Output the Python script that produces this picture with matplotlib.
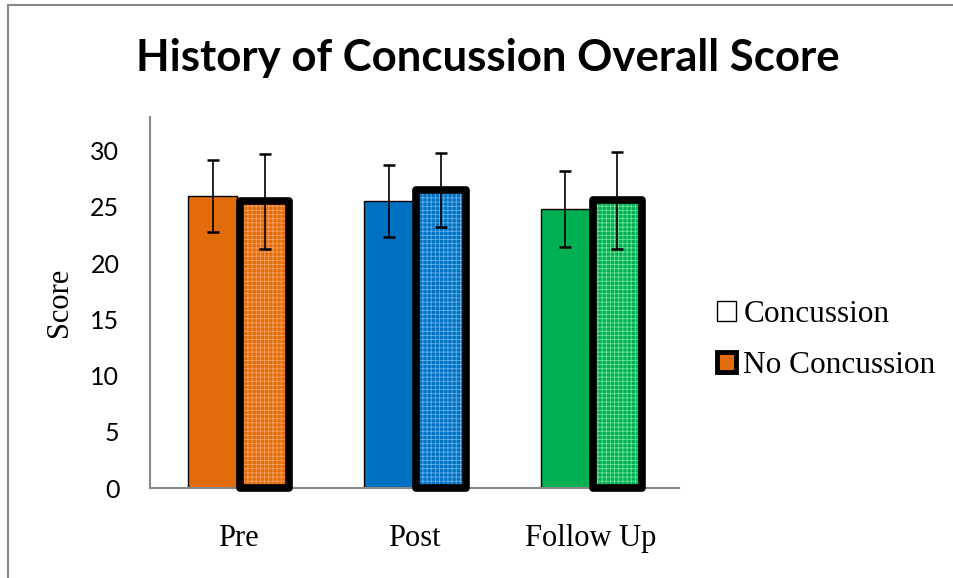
import numpy as np
import matplotlib.pyplot as plt
from matplotlib.patches import Patch
from matplotlib.lines import Line2D

plt.rcParams['hatch.linewidth'] = 0.6

categories = ['Pre', 'Post', 'Follow Up']
conc_mean = [26.0, 25.5, 24.8]
conc_err = [3.2, 3.2, 3.4]
noconc_mean = [25.5, 26.5, 25.6]
noconc_err = [4.2, 3.3, 4.3]
yticks = [0, 5, 10, 15, 20, 25, 30]

base_colors = ['#E36C0A', '#0070C0', '#00B050']
light_colors = ['#F8A060', '#62B0EA', '#6FE09C']

fig = plt.figure(figsize=(9.54, 5.78), dpi=100)
ax = fig.add_axes([0.1572, 0.1557, 0.5545, 0.6419])

x = np.arange(len(categories))
w = 0.28

# concussion bars: solid fill, thin outline
ax.bar(x - 0.145, conc_mean, w, color=base_colors, edgecolor='black', linewidth=1, zorder=2)

# no concussion bars: dotted fill + thick black border
ax.bar(x + 0.15, noconc_mean, w, color=base_colors, edgecolor=light_colors,
       hatch='++++', linewidth=0, zorder=2)
ax.bar(x + 0.15, noconc_mean, w, fill=False, edgecolor='black', linewidth=5.5,
       joinstyle='round', zorder=3, clip_on=False)

ax.errorbar(x - 0.145, conc_mean, yerr=conc_err, fmt='none', ecolor='black',
            elinewidth=1.2, capsize=4.5, capthick=1.8, zorder=4)
ax.errorbar(x + 0.15, noconc_mean, yerr=noconc_err, fmt='none', ecolor='black',
            elinewidth=1.2, capsize=4.5, capthick=1.8, zorder=4)

ax.set_xlim(-0.5, 2.5)
ax.set_ylim(0, 33)
ax.set_yticks(yticks)
ax.set_xticks(x)
ax.set_xticklabels(categories, family='Liberation Serif', fontsize=22)
ax.tick_params(axis='x', length=0, pad=26)
ax.tick_params(axis='y', length=0, pad=22, labelsize=18)
for t in ax.get_yticklabels():
    t.set_family('Lato')

for s in ['top', 'right']:
    ax.spines[s].set_visible(False)
for s in ['left', 'bottom']:
    ax.spines[s].set_color('#898989')
    ax.spines[s].set_linewidth(1.5)

ax.set_ylabel('Score', family='Liberation Serif', fontsize=22, labelpad=12)

fig.suptitle('History of Concussion Overall Score', x=0.511, y=0.935,
             family='Lato', fontweight='bold', fontsize=31.5)

handles = [Patch(facecolor='white', edgecolor='black', linewidth=1),
           Patch(facecolor=base_colors[0], edgecolor='black', linewidth=3.5)]
fig.legend(handles, ['Concussion', 'No Concussion'], loc='center left',
           bbox_to_anchor=(0.722, 0.412), frameon=False,
           prop={'family': 'Liberation Serif', 'size': 22.5},
           handlelength=0.6, handleheight=0.6, handletextpad=0.25, labelspacing=0.7)

# outer chart border (top and left edges visible)
fig.add_artist(Line2D([0.008, 0.999], [0.991, 0.991], color='#898989', lw=1.5))
fig.add_artist(Line2D([0.008, 0.008], [0.0, 0.991], color='#898989', lw=1.5))

fig.savefig('out.png', dpi=100)
